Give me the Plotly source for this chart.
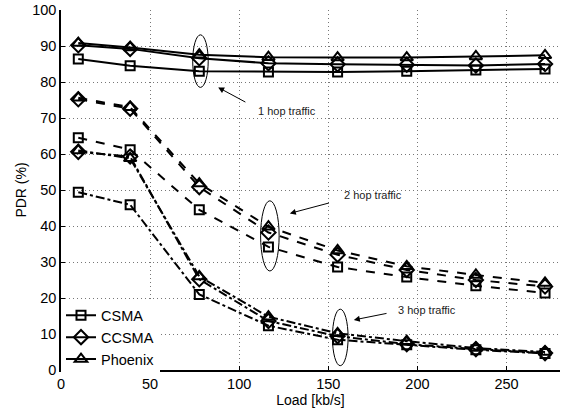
import plotly.graph_objects as go

# Offered load (kb/s)
load = [9.7, 38.8, 77.6, 116.4, 155.2, 194.0, 232.8, 271.6]

# Packet delivery ratio (%) per protocol and hop count
csma_1hop = [86.4, 84.5, 83.0, 82.8, 82.8, 83.0, 83.3, 83.6]
ccsma_1hop = [90.2, 89.2, 86.6, 85.2, 84.9, 84.8, 84.6, 85.0]
phoenix_1hop = [90.8, 89.6, 87.6, 86.9, 86.8, 86.8, 87.1, 87.4]

csma_2hop = [64.5, 61.2, 44.5, 34.2, 28.6, 25.8, 23.4, 21.4]
ccsma_2hop = [75.2, 72.6, 50.8, 38.2, 32.0, 27.8, 25.0, 23.2]
phoenix_2hop = [75.6, 73.0, 51.8, 39.8, 33.2, 28.8, 26.4, 24.2]

csma_3hop = [49.4, 45.9, 21.0, 12.3, 8.4, 7.0, 5.6, 4.6]
ccsma_3hop = [60.6, 59.3, 25.2, 13.6, 9.4, 7.2, 5.8, 4.7]
phoenix_3hop = [61.0, 58.8, 26.0, 14.8, 10.2, 8.0, 6.1, 5.0]

protocols = ["CSMA", "CCSMA", "Phoenix"]
symbols = ["square-open", "diamond-open", "triangle-up-open"]
sizes = [9, 11, 11]

groups = [
    ("solid", [csma_1hop, ccsma_1hop, phoenix_1hop], True),
    ("dash", [csma_2hop, ccsma_2hop, phoenix_2hop], False),
    ("dashdot", [csma_3hop, ccsma_3hop, phoenix_3hop], False),
]

fig = go.Figure()
for dash, series, show in groups:
    for name, sym, sz, vals in zip(protocols, symbols, sizes, series):
        fig.add_trace(go.Scatter(
            x=load, y=vals, name=name, mode="lines+markers",
            showlegend=show,
            line=dict(color="black", width=2, dash=dash),
            marker=dict(symbol=sym, size=sz, color="black",
                        line=dict(color="black", width=2)),
        ))

# Ellipses grouping each hop count
ellipses = [
    (73.9, 82.6, 78.5, 93.1),
    (112.0, 122.4, 27.5, 47.0),
    (152.3, 161.1, 1.2, 16.9),
]
for x0, x1, y0, y1 in ellipses:
    fig.add_shape(type="circle", xref="x", yref="y", x0=x0, x1=x1, y0=y0, y1=y1,
                  line=dict(color="black", width=1))

# Arrows and captions
arrows = [
    ((88.2, 78.5), (104.3, 74.2), (109.4, 71.9), "1 hop traffic"),
    ((128.4, 43.5), (151.2, 46.5), (157.4, 48.6), "2 hop traffic"),
    ((164.3, 13.9), (183.5, 15.8), (188.2, 16.7), "3 hop traffic"),
]
for head, tail, pos, label in arrows:
    fig.add_annotation(x=head[0], y=head[1], ax=tail[0], ay=tail[1],
                       xref="x", yref="y", axref="x", ayref="y", text="",
                       showarrow=True, arrowhead=2, arrowsize=1.2, arrowwidth=1,
                       arrowcolor="black")
    fig.add_annotation(x=pos[0], y=pos[1], xref="x", yref="y", text=label,
                       showarrow=False, xanchor="left", yanchor="middle",
                       font=dict(size=11, color="#222"))

axis_common = dict(
    showline=True, linecolor="black", linewidth=1.5, mirror=False,
    showgrid=True, gridcolor="#777777", griddash="1px,3px", gridwidth=1,
    zeroline=False, ticks="inside", ticklen=4, tickcolor="black",
    tickfont=dict(size=14.5, color="black"),
)

fig.update_layout(
    width=563, height=409,
    margin=dict(l=61, r=3, t=10, b=39),
    paper_bgcolor="white", plot_bgcolor="white",
    font=dict(family="Liberation Sans, Arial, sans-serif", color="black"),
    xaxis=dict(range=[0, 280], tickvals=[0, 50, 100, 150, 200, 250],
               title=dict(text="Load [kb/s]", font=dict(size=14), standoff=2),
               **axis_common),
    yaxis=dict(range=[0, 100], tickvals=list(range(0, 101, 10)),
               title=dict(text="PDR (%)", font=dict(size=14), standoff=2),
               **axis_common),
    legend=dict(x=0.0, y=-0.015, xanchor="left", yanchor="bottom",
                bgcolor="white", borderwidth=0, itemwidth=30,
                font=dict(size=14.5), tracegroupgap=0),
)

fig.write_html("out.html")
